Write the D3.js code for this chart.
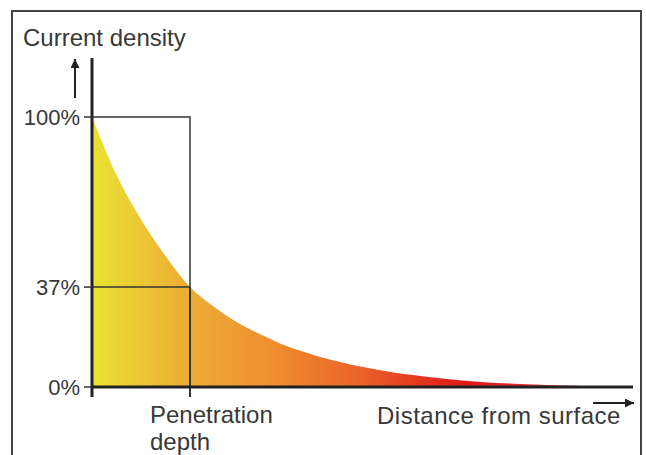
<!DOCTYPE html>
<html><head><meta charset="utf-8">
<script src="https://cdn.jsdelivr.net/npm/d3@7"></script>
<style>html,body{margin:0;padding:0;background:#fff;}svg{display:block;}text{font-family:"Liberation Sans",Arial,sans-serif;fill:#383838;}</style>
</head><body>
<script>
// depth in units of the penetration depth, density in %
const depth   = [0, 0.25, 0.5, 0.75, 1, 1.25, 1.5, 1.75, 2, 2.5, 3, 3.5, 4, 4.5, 5];
const density = [100, 78.5, 62, 48.5, 37, 29.5, 23.5, 19, 15, 9.5, 5.8, 3.4, 1.8, 0.9, 0.35];
const yTicks = [0, 37, 100];
const yTickLabels = ["0%", "37%", "100%"];
const penetrationDepth = 1;
const gradStops = [
  {o: 0, c: "#e9e432"}, {o: 0.18, c: "#edb035"}, {o: 0.36, c: "#ef9030"},
  {o: 0.55, c: "#ea6229"}, {o: 0.68, c: "#e4331f"}, {o: 0.76, c: "#e01818"}, {o: 1, c: "#e23a3a"}
];

const W = 646, H = 455;
const svg = d3.select("body").append("svg").attr("width", W).attr("height", H);

// frame
svg.append("path").attr("d", "M12,460 V11 H641 V460")
  .attr("fill", "none").attr("stroke", "#444").attr("stroke-width", 2);

const x = d3.scaleLinear().domain([0, 5.52]).range([92, 633]);
const y = d3.scaleLinear().domain([0, 100]).range([387, 117]);

const defs = svg.append("defs");
const g = defs.append("linearGradient").attr("id", "grad")
  .attr("gradientUnits", "userSpaceOnUse")
  .attr("x1", x(0)).attr("x2", x(5)).attr("y1", 0).attr("y2", 0);
gradStops.forEach(s => g.append("stop").attr("offset", s.o).attr("stop-color", s.c));

const data = depth.map((d, i) => ({d, v: density[i]}));
const area = d3.area().x(p => x(p.d)).y0(y(0)).y1(p => y(p.v)).curve(d3.curveCatmullRom.alpha(0.5));
svg.append("path").datum(data).attr("d", area).attr("fill", "url(#grad)");

// box around penetration depth
const line = "#333";
svg.append("rect").attr("x", x(0)).attr("y", y(100))
  .attr("width", x(penetrationDepth) - x(0)).attr("height", y(0) - y(100))
  .attr("fill", "none").attr("stroke", line).attr("stroke-width", 1.5);
svg.append("line").attr("x1", x(0)).attr("x2", x(penetrationDepth))
  .attr("y1", y(37)).attr("y2", y(37)).attr("stroke", line).attr("stroke-width", 1.5);
svg.append("line").attr("x1", x(penetrationDepth)).attr("x2", x(penetrationDepth))
  .attr("y1", y(37)).attr("y2", y(0) + 10).attr("stroke", line).attr("stroke-width", 2);

// axes
svg.append("line").attr("x1", x(0)).attr("x2", x(0)).attr("y1", 58).attr("y2", y(0) + 10)
  .attr("stroke", "#222").attr("stroke-width", 3);
svg.append("line").attr("x1", x(0)).attr("x2", 633).attr("y1", y(0)).attr("y2", y(0))
  .attr("stroke", "#222").attr("stroke-width", 3);

// y ticks
yTicks.forEach((t, i) => {
  svg.append("line").attr("x1", x(0) - 8).attr("x2", x(0)).attr("y1", y(t)).attr("y2", y(t))
    .attr("stroke", "#333").attr("stroke-width", 1.5);
  svg.append("text").attr("x", 80).attr("y", y(t)).attr("dy", "0.36em")
    .attr("text-anchor", "end").style("font-size", "22px").text(yTickLabels[i]);
});

// labels
svg.append("text").attr("x", 23).attr("y", 46).style("font-size", "24px").text("Current density");
svg.append("text").attr("x", 150).attr("y", 423).style("font-size", "24px").text("Penetration");
svg.append("text").attr("x", 150).attr("y", 450).style("font-size", "24px").text("depth");
svg.append("text").attr("x", 377).attr("y", 424).style("font-size", "24px")
  .style("letter-spacing", "0.5px").text("Distance from surface");

// arrows
defs.append("marker").attr("id", "ah").attr("viewBox", "0 0 10 10")
  .attr("refX", 10).attr("refY", 5).attr("markerWidth", 4.5).attr("markerHeight", 4.5)
  .attr("markerUnits", "strokeWidth").attr("orient", "auto")
  .append("path").attr("d", "M0,0 L10,5 L0,10 Z").attr("fill", "#222");
svg.append("line").attr("x1", 75).attr("x2", 75).attr("y1", 98).attr("y2", 59)
  .attr("stroke", "#222").attr("stroke-width", 2).attr("marker-end", "url(#ah)");
svg.append("line").attr("x1", 593).attr("x2", 634).attr("y1", 403).attr("y2", 403)
  .attr("stroke", "#222").attr("stroke-width", 2).attr("marker-end", "url(#ah)");
</script>
</body></html>
